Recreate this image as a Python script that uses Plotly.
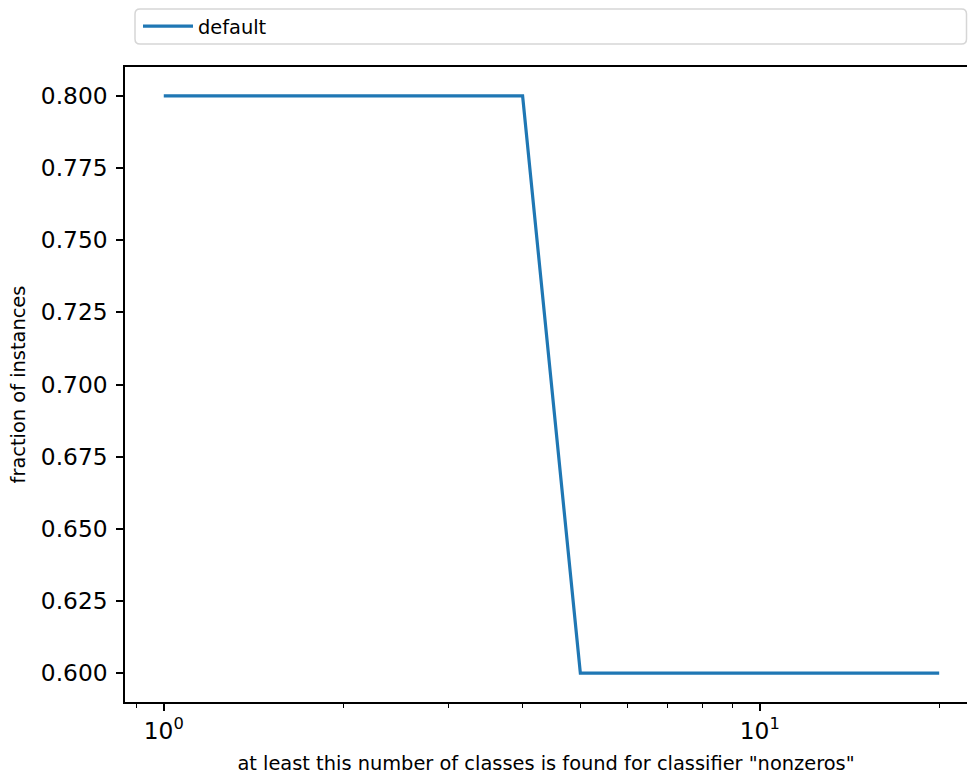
import plotly.graph_objects as go

# Data
num_classes = [1, 2, 3, 4, 5, 6, 7, 8, 9, 10, 11, 12, 13, 14, 15, 16, 17, 18, 19, 20]
fraction = [0.8, 0.8, 0.8, 0.8] + [0.6] * 16
series_name = "default"
y_ticks = [0.600, 0.625, 0.650, 0.675, 0.700, 0.725, 0.750, 0.775, 0.800]
x_major = [1, 10]
x_major_text = ["10<sup>0</sup>", "10<sup>1</sup>"]
x_minor = [0.9, 2, 3, 4, 5, 6, 7, 8, 9, 20]

W, H = 968, 776
L, R, T, B = 125, 1, 67, 74
pw, ph = W - L - R, H - T - B

FONT = "DejaVu Sans"

fig = go.Figure()
fig.add_trace(go.Scatter(
    x=num_classes, y=fraction, mode="lines", name=series_name,
    line=dict(color="#1f77b4", width=3.2), showlegend=True,
))

# legend box (rounded)
def px_x(p):
    return (p - L) / pw

def px_y(p):
    return (H - B - p) / ph

x0, x1 = px_x(135), px_x(966.5)
y0, y1 = px_y(44), px_y(9)
rx, ry = 5 / pw, 5 / ph
path = (f"M {x0+rx},{y1} L {x1-rx},{y1} Q {x1},{y1} {x1},{y1-ry} "
        f"L {x1},{y0+ry} Q {x1},{y0} {x1-rx},{y0} L {x0+rx},{y0} "
        f"Q {x0},{y0} {x0},{y0+ry} L {x0},{y1-ry} Q {x0},{y1} {x0+rx},{y1} Z")
fig.add_shape(type="path", path=path, xref="paper", yref="paper",
              line=dict(color="#d6d6d6", width=1.5), fillcolor="rgba(255,255,255,0.8)",
              layer="below")

fig.update_layout(
    width=W, height=H,
    margin=dict(l=L, r=R, t=T, b=B, pad=0),
    paper_bgcolor="white", plot_bgcolor="white",
    font=dict(family=FONT, color="black"),
    legend=dict(
        x=px_x(138), y=px_y(26.5), xanchor="left", yanchor="middle",
        bgcolor="rgba(0,0,0,0)", borderwidth=0,
        font=dict(family=FONT, size=19.4, color="black"),
        itemwidth=50,
    ),
    xaxis=dict(
        type="log",
        range=[-0.06505, -0.06505 + pw / 596.0],
        showgrid=False, zeroline=False,
        showline=True, linecolor="black", linewidth=1.6, mirror=True,
        tickmode="array", tickvals=x_major, ticktext=x_major_text,
        ticks="outside", ticklen=7, tickwidth=1.5, tickcolor="black",
        tickfont=dict(family=FONT, size=23.3, color="black"),
        minor=dict(tickmode="array", tickvals=x_minor, ticks="outside",
                   ticklen=4, tickwidth=1.2, tickcolor="black", showgrid=False),
        title=dict(text='at least this number of classes is found for classifier "nonzeros"',
                   font=dict(family=FONT, size=19.4, color="black"), standoff=14),
    ),
    yaxis=dict(
        range=[0.59, 0.81],
        showgrid=False, zeroline=False,
        showline=True, linecolor="black", linewidth=1.6, mirror=False,
        tickmode="array", tickvals=y_ticks, tickformat=".3f",
        ticks="outside", ticklen=7, tickwidth=1.5, tickcolor="black",
        tickfont=dict(family=FONT, size=23.3, color="black"),
        ticklabelstandoff=4,
        title=dict(text="fraction of instances",
                   font=dict(family=FONT, size=19.4, color="black"), standoff=10),
    ),
)

fig.write_html(
    "out.html",
    config={"displayModeBar": False},
    post_script="document.body.style.margin='0';document.body.style.overflow='hidden';"
                "document.documentElement.style.overflow='hidden';",
)
